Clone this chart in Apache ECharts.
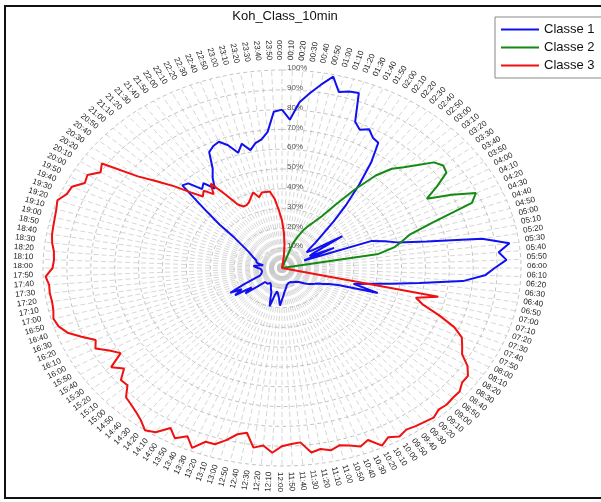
<!DOCTYPE html>
<html>
<head>
<meta charset="utf-8">
<script src="https://cdn.jsdelivr.net/npm/echarts@6/dist/echarts.min.js"></script>
<style>
html, body { margin: 0; padding: 0; background: #fff; }
#chart { width: 601px; height: 502px; }
</style>
</head>
<body>
<div id="chart"></div>
<script>
// 144 steps of 10 minutes, clockwise from the top
var times = [];
for (var h = 0; h < 24; h++) {
  for (var m = 0; m < 60; m += 10) {
    times.push((h < 10 ? '0' : '') + h + ':' + (m < 10 ? '0' : '') + m);
  }
}

var ringTicks = [10, 20, 30, 40, 50, 60, 70, 80, 90, 100];
var ringLabels = ['10%', '20%', '30%', '40%', '50%', '60%', '70%', '80%', '90%', '100%'];

// values in %
var classe1 = [
  80, 75, 84, 89, 94, 99, 92, 93.5, 94, 80,
  77, 79, 76, 75, 65, 53, 42, 32, 24, 19,
  15, 13, 16, 30, 16, 13, 24, 10, 40, 45,
  50, 62, 85, 96, 91, 94, 89, 85, 76, 58,
  46, 37, 31, 42, 25, 21, 19, 17, 16, 15,
  14, 13, 12, 11.5, 10, 9.5, 9, 9, 9, 8.5,
  8.5, 8, 8, 8, 8, 8, 8, 9, 10, 11,
  12, 14, 16, 19, 15, 13, 12, 14, 20, 16,
  13, 12, 11, 10, 10, 9, 9, 10, 10, 10,
  10, 14, 20, 16, 24, 20, 25, 18, 13, 10,
  9, 9, 9, 8.5, 8.5, 9, 9, 9, 10, 11,
  12, 10, 8, 10, 11, 11, 11.5, 12.5, 13.5, 14.5,
  16, 18, 21, 25, 34, 44, 59, 58, 52, 54,
  49, 54, 58, 66, 68, 69, 66, 61, 65, 61,
  64, 65.5, 69, 79
];

var classe2 = [
  0, 0, 0, 0, 0, 0, 0, 0, 13, 17,
  21, 24, 27, 31, 39, 50, 61, 68, 72, 77,
  83, 85, 84, 77, 70, 80, 89.5, 86, 67, 56,
  52, 48, 41, 0, 0, 0, 0, 0, 0, 0,
  0, 0, 0, 0, 0, 0, 0, 0, 0, 0,
  0, 0, 0, 0, 0, 0, 0, 0, 0, 0,
  0, 0, 0, 0, 0, 0, 0, 0, 0, 0,
  0, 0, 0, 0, 0, 0, 0, 0, 0, 0,
  0, 0, 0, 0, 0, 0, 0, 0, 0, 0,
  0, 0, 0, 0, 0, 0, 0, 0, 0, 0,
  0, 0, 0, 0, 0, 0, 0, 0, 0, 0,
  0, 0, 0, 0, 0, 0, 0, 0, 0, 0,
  0, 0, 0, 0, 0, 0, 0, 0, 0, 0,
  0, 0, 0, 0, 0, 0, 0, 0, 0, 0,
  0, 0, 0, 0
];

var classe3 = [
  24, 18, 12, 6, 0, 0, 0, 0, 0, 0,
  0, 0, 0, 0, 0, 0, 0, 0, 0, 0,
  0, 0, 0, 0, 0, 0, 0, 0, 0, 0,
  0, 0, 0, 0, 0, 0, 0, 0, 0, 0,
  0, 67, 58, 62, 70, 78, 83, 85, 87, 92,
  95, 95, 97, 97, 97.5, 97, 98.7, 98, 97.5, 96.8,
  98.3, 96.3, 99, 94, 96, 94, 92.7, 94.3, 92.8, 94,
  88.4, 89, 90, 93.4, 90, 91.5, 84.5, 86, 90, 93.3,
  93.4, 98.3, 93.7, 97, 93.3, 98.4, 100, 97, 95, 93.5,
  92.3, 87.7, 88, 83.3, 87.3, 80, 83.4, 88, 86, 90.8,
  95.5, 98, 99, 98, 97.7, 98, 97.8, 99, 96, 95.5,
  95.8, 97, 97.7, 98, 98.4, 99, 100, 97.5, 97, 93,
  94, 90, 92, 76, 68, 61, 54, 49, 51, 47,
  52, 44, 37, 35, 35, 36, 38, 40, 37, 39,
  39, 39, 35, 29
];

var N = times.length;

function toXY(arr) {
  var out = arr.map(function (v, i) {
    var a = i * 2 * Math.PI / N;
    return [v / 100 * Math.sin(a), v / 100 * Math.cos(a)];
  });
  out.push(out[0]);
  return out;
}

var chart = echarts.init(document.getElementById('chart'));

function ringItem(params, api) {
  var v = api.value(0) / 100;
  var pts = [];
  for (var d = 0; d <= 360; d += 2) {
    var a = d * Math.PI / 180;
    pts.push(api.coord([v * Math.sin(a), v * Math.cos(a)]));
  }
  return {
    type: 'polyline',
    shape: { points: pts },
    style: { fill: 'none', stroke: '#b4b4b4', lineWidth: 0.8, lineDash: [4, 3] }
  };
}

function spokeItem(params, api) {
  var a = api.value(0) * 2 * Math.PI / N;
  var c = api.coord([0, 0]);
  var p = api.coord([Math.sin(a), Math.cos(a)]);
  return {
    type: 'line',
    shape: { x1: c[0], y1: c[1], x2: p[0], y2: p[1] },
    style: { stroke: '#c4c4c4', lineWidth: 0.7, lineDash: [5, 3] }
  };
}

function timeLabelItem(params, api) {
  var i = api.value(0);
  var a = i * 2 * Math.PI / N;
  var c = api.coord([0, 0]);
  var p = api.coord([Math.sin(a), Math.cos(a)]);
  var dx = p[0] - c[0], dy = p[1] - c[1];
  var len = Math.sqrt(dx * dx + dy * dy);
  var x = p[0] + 8 * dx / len - 2, y = p[1] + 8 * dy / len - 2;
  var phi = Math.atan2(-dy, dx);
  var right = dx >= -0.01;
  return {
    type: 'text',
    x: x, y: y,
    rotation: right ? phi : phi - Math.PI,
    style: {
      text: times[i],
      fill: '#222',
      fontSize: 8,
      fontFamily: 'Liberation Sans, Arial, sans-serif',
      align: right ? 'left' : 'right',
      verticalAlign: 'middle'
    }
  };
}

function ringLabelItem(params, api) {
  var k = api.value(0);
  var p = api.coord([0, ringTicks[k] / 100]);
  return {
    type: 'text',
    x: p[0] + 5, y: p[1] - 2,
    style: {
      text: ringLabels[k],
      fill: '#555',
      fontSize: 8,
      fontFamily: 'Liberation Sans, Arial, sans-serif',
      align: 'left',
      verticalAlign: 'middle'
    }
  };
}

// plain line as legend icon
var lineIcon = 'path://M0,0 L38,0 L38,2 L0,2 Z';

var option = {
  backgroundColor: '#fff',
  animation: false,
  title: {
    text: 'Koh_Class_10min',
    left: 280,
    textAlign: 'center',
    top: 5,
    textStyle: { fontSize: 13, fontWeight: 'normal', color: '#111', fontFamily: 'Liberation Sans, Arial, sans-serif' }
  },
  legend: {
    orient: 'vertical',
    left: 495,
    top: 17,
    itemWidth: 38,
    itemHeight: 14,
    itemGap: 5,
    padding: [6, 30, 6, 6],
    borderColor: '#888',
    borderWidth: 1,
    backgroundColor: '#fff',
    textStyle: { fontSize: 13, color: '#111', fontFamily: 'Liberation Sans, Arial, sans-serif' },
    data: [
      { name: 'Classe 1', icon: lineIcon },
      { name: 'Classe 2', icon: lineIcon },
      { name: 'Classe 3', icon: lineIcon }
    ]
  },
  graphic: [{
    type: 'rect',
    shape: { x: 5, y: 6, width: 640, height: 492 },
    style: { fill: 'none', stroke: '#111', lineWidth: 2 },
    silent: true
  }],
  grid: { left: 43, top: 70, width: 478, height: 396 },
  xAxis: { type: 'value', min: -1, max: 1, show: false },
  yAxis: { type: 'value', min: -1, max: 1, show: false },
  series: [
    {
      type: 'custom', name: 'spokes', z: 1, silent: true,
      renderItem: spokeItem,
      data: times.map(function (t, i) { return [i, 0]; })
    },
    {
      type: 'custom', name: 'rings', z: 1, silent: true,
      renderItem: ringItem,
      data: ringTicks.map(function (v) { return [v, 0]; })
    },
    {
      type: 'custom', name: 'timeLabels', z: 2, silent: true,
      renderItem: timeLabelItem,
      data: times.map(function (t, i) { return [i, 0]; })
    },
    {
      type: 'custom', name: 'ringLabels', z: 2, silent: true,
      renderItem: ringLabelItem,
      data: ringTicks.map(function (v, k) { return [k, 0]; })
    },
    {
      name: 'Classe 1', type: 'line', z: 5, symbol: 'none', clip: false,
      lineStyle: { color: '#1010f0', width: 2 }, itemStyle: { color: '#1010f0' },
      data: toXY(classe1)
    },
    {
      name: 'Classe 2', type: 'line', z: 5, symbol: 'none', clip: false,
      lineStyle: { color: '#138a13', width: 2 }, itemStyle: { color: '#138a13' },
      data: toXY(classe2)
    },
    {
      name: 'Classe 3', type: 'line', z: 5, symbol: 'none', clip: false,
      lineStyle: { color: '#f01010', width: 2 }, itemStyle: { color: '#f01010' },
      data: toXY(classe3)
    }
  ]
};

chart.setOption(option);
</script>
</body>
</html>
